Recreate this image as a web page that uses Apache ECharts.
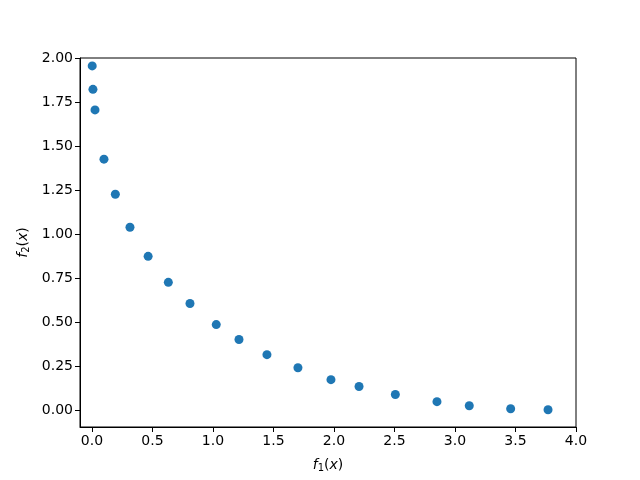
<!DOCTYPE html>
<html>
<head>
<meta charset="utf-8">
<script src="https://cdn.jsdelivr.net/npm/echarts@6/dist/echarts.min.js"></script>
<style>
  html, body { margin: 0; padding: 0; background: #fff; }
  #chart { width: 640px; height: 480px; }
</style>
</head>
<body>
<div id="chart"></div>
<script>
// values
var f1 = [0.002, 0.008, 0.025, 0.099, 0.193, 0.314, 0.464, 0.631, 0.810, 1.027,
          1.215, 1.446, 1.702, 1.975, 2.207, 2.507, 2.851, 3.118, 3.460, 3.769];
var f2 = [1.958, 1.825, 1.708, 1.428, 1.229, 1.041, 0.876, 0.728, 0.608, 0.488,
          0.403, 0.317, 0.243, 0.175, 0.136, 0.091, 0.050, 0.027, 0.010, 0.004];
var xTicks = [0, 0.5, 1, 1.5, 2, 2.5, 3, 3.5, 4];
var yTicks = [0, 0.25, 0.5, 0.75, 1, 1.25, 1.5, 1.75, 2];

var font = 'DejaVu Sans';
var mathRich = {
    i: { fontFamily: font, fontStyle: 'italic', fontSize: 14, color: '#000' },
    n: { fontFamily: font, fontSize: 14, color: '#000' },
    s: { fontFamily: font, fontSize: 10, color: '#000', verticalAlign: 'bottom', padding: [6, 0, 0, 0] }
};

var chart = echarts.init(document.getElementById('chart'));

var points = f1.map(function (x, i) { return [x, f2[i]]; });

chart.setOption({
    animation: false,
    grid: {
        left: 80, right: 64, top: 58, bottom: 53,
        show: true, borderColor: '#000', borderWidth: 1
    },
    xAxis: {
        type: 'value',
        min: -0.099, max: 4.0,
        name: '{i|f}{s|1}{n|(}{i|x}{n|)}',
        nameLocation: 'middle',
        nameGap: 30,
        nameTextStyle: { rich: mathRich },
        axisLine: { show: true, onZero: false, lineStyle: { color: '#000' } },
        axisTick: { show: true, length: 5, customValues: xTicks, lineStyle: { color: '#000' } },
        axisLabel: {
            customValues: xTicks, margin: 7,
            fontFamily: font, fontSize: 14, color: '#000',
            formatter: function (v) { return v.toFixed(1); }
        },
        splitLine: { show: false }
    },
    yAxis: {
        type: 'value',
        min: -0.094, max: 2.003,
        name: '{i|f}{s|2}{n|(}{i|x}{n|)}',
        nameLocation: 'middle',
        nameRotate: 90,
        nameGap: 48,
        nameTextStyle: { rich: mathRich },
        axisLine: { show: true, onZero: false, lineStyle: { color: '#000' } },
        axisTick: { show: true, length: 5, customValues: yTicks, lineStyle: { color: '#000' } },
        axisLabel: {
            customValues: yTicks, margin: 7,
            fontFamily: font, fontSize: 14, color: '#000',
            formatter: function (v) { return v.toFixed(2); }
        },
        splitLine: { show: false }
    },
    series: [{
        type: 'scatter',
        data: points,
        symbolSize: 9,
        itemStyle: { color: '#1f77b4', opacity: 1 }
    }]
});
</script>
</body>
</html>
